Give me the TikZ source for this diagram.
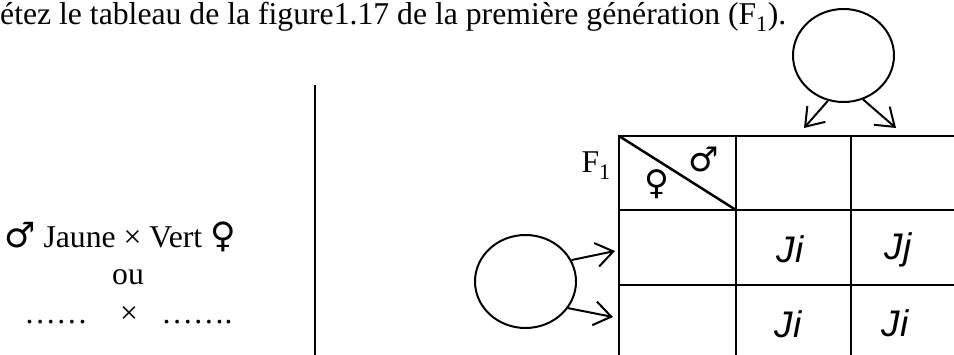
\documentclass[tikz,border=0pt]{standalone}
\usepackage{fontspec}
\setmainfont{Liberation Serif}
\newfontfamily\symf{DejaVu Sans}
\newfontfamily\jfont{Liberation Sans}
\usetikzlibrary{shapes.geometric,arrows.meta}
\begin{document}
\begin{tikzpicture}[x=1pt,y=-1pt,
  txt/.style={inner sep=0pt, font=\fontsize{31.7}{38}\selectfont},
  symb/.style={inner sep=0pt, font=\symf\fontsize{34}{38}\selectfont},
  circ/.style={draw, ellipse, line width=2pt, minimum width=101pt, minimum height=93pt, inner sep=0pt},
  arr/.style={line width=2pt, -{Straight Barb[length=17pt,width=24pt,line width=2pt]}},
  gridline/.style={line width=2pt, line cap=rect},
  cell/.style={inner sep=0pt, anchor=base, font=\jfont\itshape\fontsize{37}{40}\selectfont}]
\useasboundingbox (0,0) rectangle (954,355);

% title
\node[txt, anchor=base west] (title) at (0,25) {étez le tableau de la figure1.17 de la première génération (F\textsubscript{1}).};

% left text
\node[txt, anchor=base] (cross) at (120,248) {{\symf\fontsize{35}{38}\selectfont ♂} Jaune × Vert {\symf\fontsize{35}{38}\selectfont ♀}};
\node[txt, anchor=base] (ou) at (128,285) {ou};
\node[txt, anchor=base] (dotsa) at (56,324) {……};
\node[txt, anchor=base] (times) at (129,324) {×};
\node[txt, anchor=base] (dotsb) at (197,324) {…….};

% separator
\coordinate (sepT) at (315,85);
\coordinate (sepB) at (315,355);
\draw[line width=2pt] (sepT) -- (sepB);

% table
\draw[gridline] (619,136) -- (954,136);
\draw[gridline] (619,210) -- (954,210);
\draw[gridline] (619,285) -- (954,285);
\draw[gridline] (619,136) -- (619,360);
\draw[gridline] (736,136) -- (736,360);
\draw[gridline] (851,136) -- (851,360);
\draw[line width=2.5pt] (619,136) -- (736,210);

\node[txt, anchor=base east] (f1) at (611,173) {F\textsubscript{1}};
\node[symb] (male) at (704,159) {♂};
\node[symb] (female) at (657,184) {♀};

\node[cell] (c22) at (790,263) {Ji};
\node[cell] (c23) at (898,260) {Jj};
\node[cell] (c32) at (788,338) {Ji};
\node[cell] (c33) at (895,337) {Ji};

% circles
\node[circ] (topc) at (843.5,55.5) {};
\node[circ] (leftc) at (525.5,281.5) {};

\coordinate (tA) at (804,128);
\coordinate (tB) at (896,128);
\coordinate (lA) at (615,251);
\coordinate (lB) at (613,317);

\draw[arr] (topc.251.6) -- (tA);
\draw[arr] (topc.294.7) -- (tB);
\draw[arr] (leftc.25.8) -- (lA);
\draw[arr] (leftc.-32) -- (lB);
\end{tikzpicture}
\end{document}
